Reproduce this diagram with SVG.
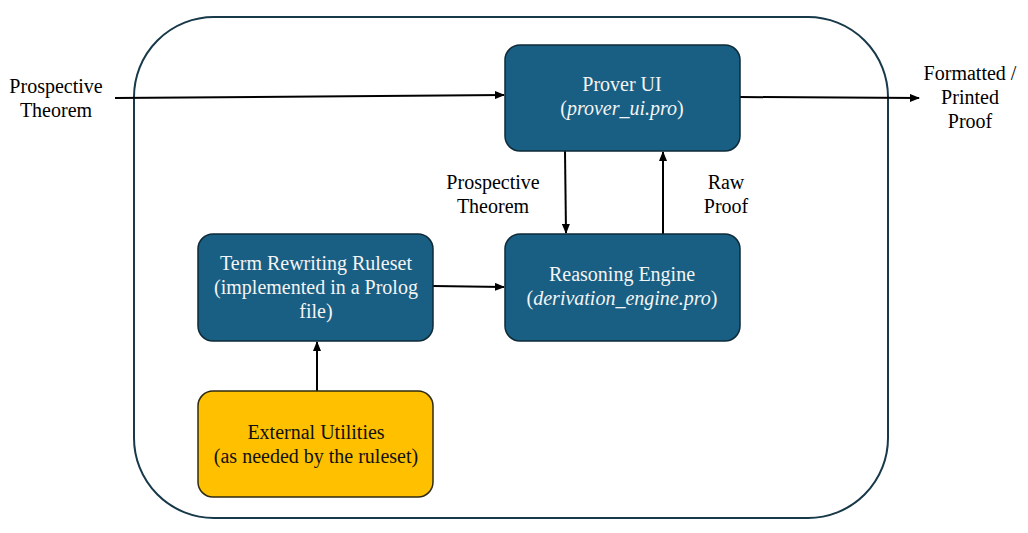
<svg xmlns="http://www.w3.org/2000/svg" width="1028" height="533" viewBox="0 0 1028 533">
<defs>
<marker id="ah" markerWidth="10" markerHeight="8" refX="9" refY="4" orient="auto" markerUnits="userSpaceOnUse">
<path d="M0,0 L10,4 L0,8 Z" fill="#000"/>
</marker>
<style>
text{font-family:'Liberation Serif','DejaVu Serif',serif;font-size:20px;text-anchor:middle}
.lbl{fill:#000}
.wt{fill:#f4f4f4}
.bk{fill:#111}
.node{fill:#195f83;stroke:#0e2a38;stroke-width:1.5}
.yel{fill:#ffc000;stroke:#2e2a10;stroke-width:1.5}
.edge{stroke:#000;stroke-width:2;fill:none;marker-end:url(#ah)}
</style>
</defs>
<rect width="1028" height="533" fill="#fff"/>
<rect id="container" x="134" y="17" width="754" height="501" rx="80" ry="80" fill="none" stroke="#17394a" stroke-width="2"/>

<g id="connectors">
<line class="edge" x1="115" y1="98" x2="504" y2="95"/>
<line class="edge" x1="740" y1="97" x2="919" y2="98"/>
<line class="edge" x1="565" y1="151" x2="566" y2="233"/>
<line class="edge" x1="663" y1="234" x2="663" y2="152"/>
<line class="edge" x1="433" y1="286" x2="504" y2="287"/>
<line class="edge" x1="317" y1="391" x2="317" y2="342"/>
</g>

<g id="label-input">
<text class="lbl" x="56" y="93">Prospective</text>
<text class="lbl" x="56" y="117">Theorem</text>
</g>
<g id="label-output">
<text class="lbl" x="970" y="80">Formatted /</text>
<text class="lbl" x="970" y="104">Printed</text>
<text class="lbl" x="970" y="128">Proof</text>
</g>
<g id="label-down">
<text class="lbl" x="493" y="189">Prospective</text>
<text class="lbl" x="493" y="213">Theorem</text>
</g>
<g id="label-up">
<text class="lbl" x="726" y="189">Raw</text>
<text class="lbl" x="726" y="213">Proof</text>
</g>

<g id="prover-ui">
<rect class="node" x="505" y="45" width="235" height="106" rx="15"/>
<text class="wt" x="622" y="91">Prover UI</text>
<text class="wt" x="622" y="115">(<tspan font-style="italic">prover_ui.pro</tspan>)</text>
</g>

<g id="reasoning-engine">
<rect class="node" x="505" y="234" width="235" height="107" rx="15"/>
<text class="wt" x="622" y="281">Reasoning Engine</text>
<text class="wt" x="622" y="305">(<tspan font-style="italic">derivation_engine.pro</tspan>)</text>
</g>

<g id="term-rewriting">
<rect class="node" x="198" y="234" width="235" height="107" rx="15"/>
<text class="wt" x="316" y="270">Term Rewriting Ruleset</text>
<text class="wt" x="316" y="294">(implemented in a Prolog</text>
<text class="wt" x="316" y="318">file)</text>
</g>

<g id="external-utilities">
<rect class="yel" x="198" y="391" width="235" height="106" rx="15"/>
<text class="bk" x="316" y="439">External Utilities</text>
<text class="bk" x="316" y="463">(as needed by the ruleset)</text>
</g>
</svg>
